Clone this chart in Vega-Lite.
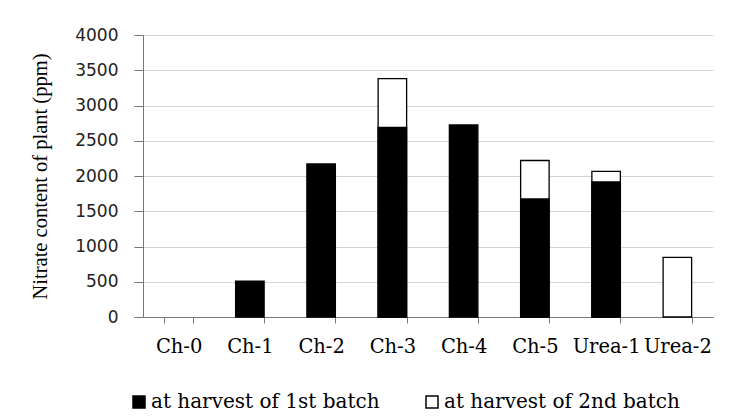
{
  "$schema": "https://vega.github.io/schema/vega-lite/v6.json",
  "width": 570,
  "height": 282,
  "autosize": {"type": "none"},
  "padding": {"left": 143, "top": 35, "right": 16, "bottom": 102},
  "background": "white",
  "config": {"view": {"stroke": null}},
  "data": {
    "values": [
      {"treatment": "Ch-3", "batch": "at harvest of 2nd batch", "nitrate": 3380},
      {"treatment": "Ch-5", "batch": "at harvest of 2nd batch", "nitrate": 2220},
      {"treatment": "Urea-1", "batch": "at harvest of 2nd batch", "nitrate": 2065},
      {"treatment": "Urea-2", "batch": "at harvest of 2nd batch", "nitrate": 845},
      {"treatment": "Ch-1", "batch": "at harvest of 1st batch", "nitrate": 510},
      {"treatment": "Ch-2", "batch": "at harvest of 1st batch", "nitrate": 2170},
      {"treatment": "Ch-3", "batch": "at harvest of 1st batch", "nitrate": 2690},
      {"treatment": "Ch-4", "batch": "at harvest of 1st batch", "nitrate": 2725},
      {"treatment": "Ch-5", "batch": "at harvest of 1st batch", "nitrate": 1675},
      {"treatment": "Urea-1", "batch": "at harvest of 1st batch", "nitrate": 1915}
    ]
  },
  "mark": {"type": "bar", "stroke": "black", "strokeWidth": 1.3},
  "encoding": {
    "x": {
      "field": "treatment",
      "type": "nominal",
      "scale": {
        "domain": ["Ch-0", "Ch-1", "Ch-2", "Ch-3", "Ch-4", "Ch-5", "Urea-1", "Urea-2"],
        "paddingInner": 0.6,
        "paddingOuter": 0.3
      },
      "axis": {
        "title": null,
        "labelAngle": 0,
        "labelFont": "DejaVu Serif",
        "labelFontSize": 19.5,
        "labelColor": "black",
        "labelPadding": 14,
        "labelOverlap": false,
        "labelLimit": 200,
        "tickBand": "extent",
        "tickSize": 6,
        "tickColor": "#777",
        "domainColor": "#777",
        "grid": false
      }
    },
    "y": {
      "field": "nitrate",
      "type": "quantitative",
      "stack": null,
      "scale": {"domain": [0, 4000], "nice": false},
      "axis": {
        "title": "Nitrate content of plant (ppm)",
        "titleFont": "Liberation Serif",
        "titleFontSize": 20.5,
        "titleFontWeight": "normal",
        "titleColor": "black",
        "titleX": -103,
        "titleY": 141,
        "titleAngle": 270,
        "titleAlign": "center",
        "titleBaseline": "middle",
        "values": [0, 500, 1000, 1500, 2000, 2500, 3000, 3500, 4000],
        "format": "d",
        "labelFont": "DejaVu Sans",
        "labelFontSize": 17,
        "labelColor": "#222",
        "labelPadding": 16,
        "tickSize": 9,
        "tickColor": "#777",
        "domainColor": "#777",
        "gridColor": "#d4d4d4"
      }
    },
    "fill": {
      "field": "batch",
      "type": "nominal",
      "scale": {
        "domain": ["at harvest of 1st batch", "at harvest of 2nd batch"],
        "range": ["black", "white"]
      },
      "legend": {
        "title": null,
        "orient": "none",
        "legendX": -14,
        "legendY": 357,
        "direction": "horizontal",
        "columns": 2,
        "columnPadding": 42,
        "symbolType": "square",
        "symbolSize": 144,
        "symbolStrokeWidth": 1.5,
        "symbolStrokeColor": "black",
        "labelFont": "DejaVu Serif",
        "labelFontSize": 20,
        "labelColor": "black",
        "labelOffset": 2,
        "labelLimit": 400
      }
    }
  }
}
